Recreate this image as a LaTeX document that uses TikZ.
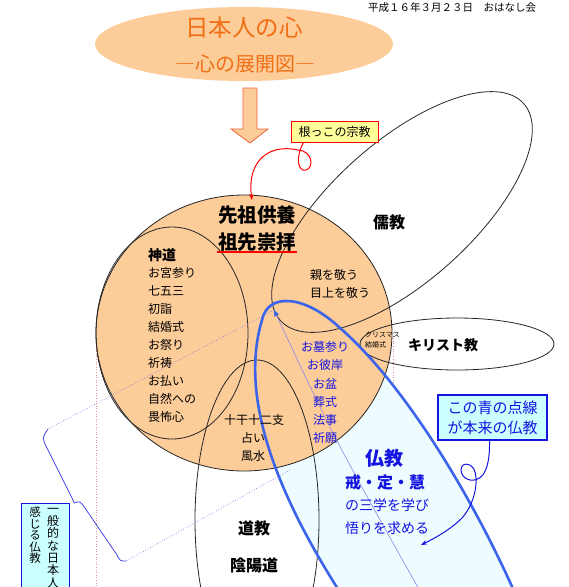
\documentclass[tikz,border=0pt]{standalone}
\usepackage{fontspec}
\setmainfont{Noto Sans CJK JP}
\usetikzlibrary{arrows.meta}
\definecolor{peach}{RGB}{252,204,153}
\definecolor{titleorange}{RGB}{240,110,20}
\definecolor{arrowred}{RGB}{235,100,60}
\definecolor{loopblue}{RGB}{60,100,235}
\definecolor{textblue}{RGB}{20,20,225}
\definecolor{paleblue}{RGB}{238,252,255}
\definecolor{boxcyan}{RGB}{204,255,255}
\definecolor{noteyellow}{RGB}{255,255,153}
\definecolor{guidepink}{RGB}{225,150,150}
\definecolor{dotblue}{RGB}{130,120,230}
\newcommand\jsize[1]{\fontsize{#1}{#1}\selectfont}

\begin{document}
\begin{tikzpicture}[x=1pt,y=-1pt,
	every node/.style={inner sep=0pt},
	outline/.style={draw=black!85,line width=0.8pt},
	item/.style={anchor=west,font=\jsize{12}},
	faith/.style={font=\bfseries\jsize{16}},
	guide/.style={draw=guidepink,dotted,line width=0.6pt},
	pointer/.style={draw=dotblue,dotted,line width=0.7pt}]
	\useasboundingbox (0,0) rectangle (569,587);
	\clip (0,0) rectangle (569,587);
	% heading
	\fill[peach] (244,44) ellipse [x radius=149pt, y radius=37pt];
	\node[font=\jsize{23.5},text=titleorange] (title) at (244,28) {日本人の心};
	\node[font=\jsize{20},text=titleorange] (subtitle) at (245,64) {―心の展開図―};
	\node[font=\jsize{10.5}] (date) at (452,8) {平成１６年３月２３日　おはなし会};
	\filldraw[fill=peach,draw=arrowred,line width=0.8pt] (243,88) -- (257,88) -- (257,129) -- (268,129) -- (250,143) -- (231,129) -- (243,129) -- cycle;
	% guides
	\draw[guide] (96,333) -- (96,587);
	\draw[guide] (393,333) -- (393,587);
	% buddhism loop
	\coordinate (loopL) at (345,600);
	\coordinate (loopT) at (262,320);
	\coordinate (loopR) at (340,328);
	\coordinate (loopE) at (518,600);
	\fill[paleblue] (loopL) .. controls (280,500) and (238,400) .. (loopT) .. controls (268,292) and (305,295) .. (loopR) .. controls (400,380) and (470,490) .. (loopE) -- cycle;
	% circles
	\filldraw[fill=peach,outline] (244,333) ellipse [x radius=148pt, y radius=138pt];
	\draw[outline] (172,333) ellipse [x radius=76pt, y radius=106pt];
	\draw[outline,rotate around={41.7:(402,212)}] (402,212) ellipse [x radius=163pt, y radius=70pt];
	\draw[outline] (457,344) ellipse [x radius=97pt, y radius=26pt];
	\draw[outline] (257,520) ellipse [x radius=62pt, y radius=160pt];
	\draw[loopblue,line width=2.6pt] (loopL) .. controls (280,500) and (238,400) .. (loopT) .. controls (268,292) and (305,295) .. (loopR) .. controls (400,380) and (470,490) .. (loopE);
	\coordinate (budtop) at (274,310);
	\coordinate (budlow) at (290,470);
	\draw[dotblue!90,line width=0.6pt,-{Triangle[length=6pt,width=5pt,color=loopblue]}] (425,600) .. controls (335,440) .. (budtop);
	% texts
	\node[font=\bfseries\jsize{19.5}] (ancestor) at (257,215) {先祖供養};
	\node[font=\bfseries\jsize{19.5}] (worship) at (257,242) {祖先崇拝};
	\draw[red,line width=1.5pt] (217,252) -- (297,252);
	\node[anchor=west,font=\bfseries\jsize{14}] (shinto) at (148,255) {神道};
	\foreach \w [count=\i] in {お宮参り,七五三,初詣,結婚式,お祭り,祈祷,お払い,自然への,畏怖心}
		\node[item] (shinto\i) at (148,{255+18*\i}) {\w};
	\node[faith] (confucian) at (389,222) {儒教};
	\node[item] (parents) at (310,275) {親を敬う};
	\node[item] (elders) at (310,293) {目上を敬う};
	\node[font=\bfseries\jsize{14}] (christian) at (443,345) {キリスト教};
	\node[anchor=west,font=\jsize{7}] (xmas) at (365,335) {クリスマス};
	\node[anchor=west,font=\jsize{7}] (wedding) at (365,345) {結婚式};
	\foreach \w [count=\i] in {お墓参り,お彼岸,お盆,葬式,法事,祈願}
		\node[font=\jsize{12},text=textblue] (rite\i) at (325,{329+18.2*\i}) {\w};
	\node[font=\jsize{12}] (zodiac) at (254,420) {十干十二支};
	\node[font=\jsize{12}] (fortune) at (253,438) {占い};
	\node[font=\jsize{12}] (fengshui) at (253,456) {風水};
	\node[faith] (taoism) at (254,528) {道教};
	\node[faith] (yinyang) at (254,565) {陰陽道};
	\node[font=\bfseries\jsize{19},text=textblue] (buddhism) at (384,458) {仏教};
	\node[font=\bfseries\jsize{16},text=textblue] (precepts) at (385,482) {戒・定・慧};
	\node[anchor=west,font=\jsize{14},text=textblue] (learn) at (345,505) {の三学を学び};
	\node[anchor=west,font=\jsize{14},text=textblue] (seek) at (345,528) {悟りを求める};
	% callouts
	\node[draw=red,fill=noteyellow,line width=0.8pt,minimum width=87pt,minimum height=21pt,font=\jsize{12}] (root) at (334.5,131.5) {根っこの宗教};
	\coordinate (rootend) at (252,200);
	\draw[red,line width=1pt,-{Stealth[length=6pt,width=4.5pt]}] ([xshift=-31pt]root.south) .. controls (295,158) and (298,172) .. (306,170) .. controls (314,168) and (313,151) .. (298,150) .. controls (265,143) and (247,165) .. (rootend);
	\node[draw=textblue,fill=boxcyan,line width=1.2pt,minimum width=109pt,minimum height=45pt,align=left,font=\fontsize{15}{20}\selectfont,text=textblue] (note) at (492.5,417.5) {この青の点線\\が本来の仏教};
	\coordinate (noteend) at (421,545);
	\draw[textblue,line width=1pt,-{Stealth[length=6pt,width=4.5pt]}] ([xshift=-3pt]note.south) .. controls (490,465) and (485,482) .. (470,480) .. controls (458,478) and (458,460) .. (470,465) .. controls (480,470) and (478,500) .. (462,518) .. controls (450,530) and (435,538) .. (noteend);
	\node[draw=textblue,fill=boxcyan,line width=1.2pt,minimum width=48pt,minimum height=100pt,anchor=north west] (general) at (21,503) {};
	\node[anchor=north,align=center,font=\fontsize{12}{12.3}\selectfont] (generalR) at (53,508) {一\\般\\的\\な\\日\\本\\人};
	\node[anchor=north,align=center,font=\fontsize{11.5}{11.5}\selectfont] (generalL) at (35,507) {感\\じ\\る\\仏\\教};
	\coordinate (braceA) at (48,429);
	\coordinate (braceB) at (126,561);
	\draw[pointer] (budtop) -- (braceA);
	\draw[pointer] (budlow) -- (braceB);
	\draw[textblue!80,line width=0.8pt] (braceA) .. controls (42,438) .. (47,448) -- (67,488) .. controls (73,500) .. ([xshift=4pt]general.north east) .. controls (80,501) .. (85,508) -- (117,555) .. controls (120,561) .. (braceB);
\end{tikzpicture}
\end{document}
